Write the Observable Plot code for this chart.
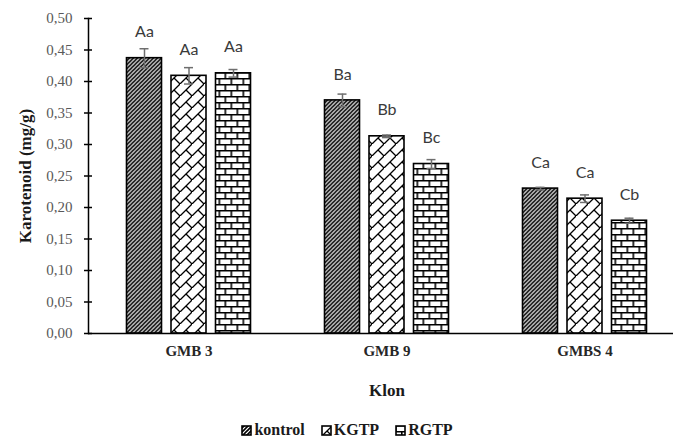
<!DOCTYPE html>
<html>
<head>
<meta charset="utf-8">
<script src="https://cdn.jsdelivr.net/npm/d3@7"></script>
<script src="https://cdn.jsdelivr.net/npm/@observablehq/plot@0.6"></script>
<style>
  body { margin: 0; background: white; }
  #legend { display: flex; justify-content: center; align-items: center; height: 26px; padding-left: 21px; padding-top: 2px;
    font-family: "Liberation Serif", serif; font-weight: bold; font-size: 16px; color: #1a1a1a; }
  .item { display: flex; align-items: center; margin-right: 16px; }
  .item:last-child { margin-right: 0; }
  .item svg { margin-right: 2px; }
</style>
</head>
<body>
<div id="chart"></div>
<div id="legend"></div>
<script>
const klon = ["GMB 3", "GMB 9", "GMBS 4"];
const series = ["kontrol", "KGTP", "RGTP"];
const kontrol = [0.437, 0.370, 0.230];
const kgtp = [0.409, 0.313, 0.214];
const rgtp = [0.413, 0.269, 0.179];
const errKontrol = [0.015, 0.010, 0.002];
const errKgtp = [0.013, 0.002, 0.006];
const errRgtp = [0.006, 0.007, 0.004];
const lblKontrol = ["Aa", "Ba", "Ca"];
const lblKgtp = ["Aa", "Bb", "Ca"];
const lblRgtp = ["Aa", "Bc", "Cb"];
const yTicks = [0, 0.05, 0.10, 0.15, 0.20, 0.25, 0.30, 0.35, 0.40, 0.45, 0.50];

const values = [kontrol, kgtp, rgtp];
const errs = [errKontrol, errKgtp, errRgtp];
const lbls = [lblKontrol, lblKgtp, lblRgtp];
const rows = klon.flatMap((k, i) => series.map((s, j) => ({
  klon: k, series: s, value: values[j][i], err: errs[j][i], label: lbls[j][i]
})));

const step = 44.5;
const serif = "Liberation Serif, Times New Roman, serif";
const fmt = d => d.toFixed(2).replace(".", ",");

const seriesMarks = series.flatMap((s, j) => {
  const data = rows.filter(d => d.series === s);
  const dx = (j - 1) * step;
  return [
    Plot.barY(data, {x: "klon", y: "value", fill: `url(#pat-${j})`, stroke: "black", strokeWidth: 1.6, dx}),
    Plot.ruleX(data, {x: "klon", y1: d => d.value - d.err, y2: d => d.value + d.err, stroke: "#6e6e6e", strokeWidth: 1.5, dx}),
    Plot.tickY(data, {x: "klon", y: d => d.value + d.err, stroke: "#6e6e6e", strokeWidth: 1.5, insetLeft: 13, insetRight: 13, dx}),
    Plot.tickY(data, {x: "klon", y: d => d.value - d.err, stroke: "#6e6e6e", strokeWidth: 1.5, insetLeft: 13, insetRight: 13, dx}),
    Plot.text(data, {x: "klon", y: "value", text: "label", dy: -26, dx, fontSize: 16, fontFamily: "Lato, sans-serif", fill: "#3a3a3a"})
  ];
});

const svg = Plot.plot({
  width: 673,
  height: 415,
  marginLeft: 88,
  marginRight: 0,
  marginTop: 18,
  marginBottom: 82,
  style: {background: "white", overflow: "visible"},
  x: {type: "band", domain: klon, range: [88, 685], paddingInner: 0.824, paddingOuter: 0.4146},
  y: {domain: [0, 0.5]},
  marks: [
    Plot.axisY({ticks: yTicks, tickSize: 8, dx: 4, tickFormat: () => "", stroke: "black", strokeWidth: 1.5, label: null}),
    Plot.axisY({ticks: yTicks, tickSize: 0, tickPadding: 16, tickFormat: fmt, fontSize: 15, fontFamily: serif, fill: "#595959", label: null}),
    Plot.axisX({tickSize: 0, tickPadding: 12, fontSize: 15, fontWeight: "bold", fontFamily: serif, fill: "#262626", label: null}),
    Plot.frame({anchor: "left", stroke: "black", strokeWidth: 1.5}),
    ...seriesMarks,
    Plot.ruleY([0], {stroke: "black", strokeWidth: 1.5}),
    Plot.text(["Karotenoid (mg/g)"], {text: d => d, frameAnchor: "left", textAnchor: "middle", lineAnchor: "middle", dx: -63, rotate: -90, fontSize: 17, fontWeight: "bold", fontFamily: serif, fill: "#1a1a1a"}),
    Plot.text(["Klon"], {text: d => d, x: () => klon[1], frameAnchor: "bottom", lineAnchor: "middle", dy: 57, fontSize: 17, fontWeight: "bold", fontFamily: serif, fill: "#1a1a1a"})
  ]
});

const defs = `
<pattern id="pat-0" patternUnits="userSpaceOnUse" width="4" height="4">
  <rect width="4" height="4" fill="white"/>
  <path d="M-1,1 l2,-2 M0,4 l4,-4 M3,5 l2,-2" stroke="black" stroke-width="1.6"/>
</pattern>
<pattern id="pat-1" patternUnits="userSpaceOnUse" width="12" height="12">
  <rect width="12" height="12" fill="white"/>
  <path d="M-1,13 L13,-1 M6,6 L12,12" stroke="black" stroke-width="1.3"/>
</pattern>
<pattern id="pat-2" patternUnits="userSpaceOnUse" width="12" height="12">
  <rect width="12" height="12" fill="white"/>
  <path d="M0,0.8 H12 M0,6.8 H12 M0.8,0 V6 M6.8,6 V12" stroke="black" stroke-width="1.6"/>
</pattern>`;
d3.select(svg).insert("defs", ":first-child").html(defs);
document.getElementById("chart").appendChild(svg);

const legend = d3.select("#legend");
series.forEach((s, j) => {
  const item = legend.append("div").attr("class", "item");
  const sw = item.append("svg").attr("width", 11).attr("height", 11);
  sw.append("rect").attr("x", 1).attr("y", 1).attr("width", 9).attr("height", 9)
    .attr("fill", `url(#pat-${j})`).attr("stroke", "black").attr("stroke-width", 1.6);
  item.append("span").text(s);
});
</script>
</body>
</html>
